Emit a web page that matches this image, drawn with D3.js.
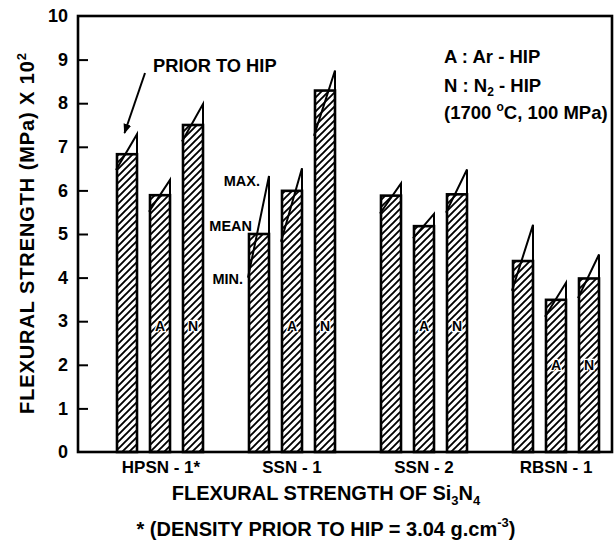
<!DOCTYPE html>
<html><head><meta charset="utf-8">
<script src="https://cdn.jsdelivr.net/npm/d3@7"></script>
<style>
html,body{margin:0;padding:0;background:#fff;}
text{font-family:"Liberation Sans",Arial,sans-serif;font-weight:bold;fill:#000;}
</style></head>
<body><svg id="c" width="616" height="542"></svg>
<script>
// ---- data ----
const categories = ["HPSN - 1*", "SSN - 1", "SSN - 2", "RBSN - 1"];
const series = ["prior", "A", "N"];
const seriesLetters = ["", "A", "N"];
const meanValues = [[6.83, 5.89, 7.50], [5.00, 5.99, 8.29], [5.88, 5.18, 5.91], [4.38, 3.49, 3.98]];
const maxValues  = [[7.29, 6.24, 7.98], [6.33, 6.51, 8.75], [6.16, 5.46, 6.48], [5.21, 3.88, 4.53]];
const minValues  = [[6.47, 5.51, 7.12], [4.00, 4.82, 7.25], [5.47, 4.90, 5.49], [3.70, 3.10, 3.53]];
const letterLevels = [2.9, 2.9, 2.9, 2.0];
const yTicks = [0, 1, 2, 3, 4, 5, 6, 7, 8, 9, 10];

// ---- layout ----
const svg = d3.select("#c");
const frame = {left: 78, right: 612, top: 16, bottom: 452};
const y = d3.scaleLinear().domain([0, 10]).range([frame.bottom, frame.top]);
const x0 = d3.scaleBand().domain(categories).range([94, 622]).padding(0);
const x1 = d3.scaleBand().domain(series)
  .range([x0.bandwidth() / 2 - 49.5, x0.bandwidth() / 2 + 49.5])
  .paddingInner(0.394).paddingOuter(0.197);

// hatch pattern
const defs = svg.append("defs");
const pat = defs.append("pattern").attr("id", "hatch").attr("patternUnits", "userSpaceOnUse")
  .attr("width", 7).attr("height", 7);
pat.append("rect").attr("width", 7).attr("height", 7).attr("fill", "#fff");
pat.append("path").attr("d", "M-1,1 l2,-2 M0,7 l7,-7 M6,8 l2,-2")
  .attr("stroke", "#000").attr("stroke-width", 1.9);

// bars
const rows = [];
categories.forEach((c, i) => series.forEach((s, j) => rows.push({
  cat: c, ser: s, letter: seriesLetters[j], mean: meanValues[i][j],
  max: maxValues[i][j], min: minValues[i][j], lvl: letterLevels[i]
})));

const g = svg.append("g");
const bw = x1.bandwidth();
const bx = d => x0(d.cat) + x1(d.ser);

g.selectAll("rect.bar").data(rows).join("rect").attr("class", "bar")
  .attr("x", bx).attr("width", bw)
  .attr("y", d => y(d.mean)).attr("height", d => y(0) - y(d.mean))
  .attr("fill", "url(#hatch)").attr("stroke", "#000").attr("stroke-width", 2.6);

// max/min indicators
g.selectAll("path.rng").data(rows).join("path").attr("class", "rng")
  .attr("d", d => `M${bx(d) + bw},${y(d.mean)} L${bx(d) + bw},${y(d.max)} L${bx(d) - 1},${y(d.min)}`)
  .attr("fill", "none").attr("stroke", "#000").attr("stroke-width", 2);

// letters in bars
g.selectAll("text.let").data(rows.filter(d => d.letter)).join("text").attr("class", "let")
  .attr("x", d => bx(d) + bw / 2).attr("y", d => y(d.lvl) + 5)
  .attr("text-anchor", "middle").attr("font-size", 14)
  .attr("stroke", "#fff").attr("stroke-width", 2.5).attr("paint-order", "stroke")
  .text(d => d.letter);

// frame
svg.append("rect").attr("x", frame.left).attr("y", frame.top)
  .attr("width", frame.right - frame.left).attr("height", frame.bottom - frame.top)
  .attr("fill", "none").attr("stroke", "#000").attr("stroke-width", 2.6);

// y axis
const ax = svg.append("g").attr("transform", `translate(${frame.left},0)`)
  .call(d3.axisLeft(y).tickValues(yTicks).tickSizeInner(-10).tickSizeOuter(0).tickPadding(10).tickFormat(d3.format("d")));
ax.select(".domain").remove();
ax.selectAll(".tick line").attr("stroke-width", 2).filter(d => d === 0 || d === 10).remove();
ax.selectAll(".tick text").attr("font-size", 18).style("font-family", "Liberation Sans, Arial, sans-serif").style("font-weight", "bold");

// x category labels
svg.selectAll("text.cat").data(categories).join("text").attr("class", "cat")
  .attr("x", d => x0(d) + x0.bandwidth() / 2 + (d === "HPSN - 1*" ? 1 : 0)).attr("y", 473)
  .attr("text-anchor", "middle").attr("font-size", 17).text(d => d);

// axis titles
const yt = svg.append("text").attr("transform", "translate(34,233) rotate(-90)")
  .attr("text-anchor", "middle").attr("font-size", 20).attr("letter-spacing", 0.9);
yt.append("tspan").text("FLEXURAL STRENGTH  (MPa) X 10");
yt.append("tspan").attr("dy", -8).attr("font-size", 13).text("2");

const xt = svg.append("text").attr("x", 326).attr("y", 500).attr("text-anchor", "middle").attr("font-size", 20);
xt.append("tspan").text("FLEXURAL STRENGTH OF Si");
xt.append("tspan").attr("dy", 5).attr("font-size", 13).text("3");
xt.append("tspan").attr("dy", -5).text("N");
xt.append("tspan").attr("dy", 5).attr("font-size", 13).text("4");

const ft = svg.append("text").attr("x", 326).attr("y", 536).attr("text-anchor", "middle").attr("font-size", 20);
ft.append("tspan").text("* (DENSITY PRIOR TO HIP = 3.04 g.cm");
ft.append("tspan").attr("dy", -9).attr("font-size", 13).text("-3");
ft.append("tspan").attr("dy", 9).text(")");

// legend
const lg = svg.append("g");
lg.append("text").attr("x", 444).attr("y", 63).attr("font-size", 18.5).text("A : Ar - HIP");
const l2 = lg.append("text").attr("x", 444).attr("y", 92).attr("font-size", 18.5);
l2.append("tspan").text("N : N");
l2.append("tspan").attr("dy", 4).attr("font-size", 12).text("2");
l2.append("tspan").attr("dy", -4).text(" - HIP");
const l3 = lg.append("text").attr("x", 444).attr("y", 119).attr("font-size", 18.5);
l3.append("tspan").text("(1700 ");
l3.append("tspan").attr("dy", -8).attr("font-size", 12).text("o");
l3.append("tspan").attr("dy", 8).text("C, 100 MPa)");

// annotations
svg.append("text").attr("x", 153).attr("y", 72).attr("font-size", 18.3).text("PRIOR TO HIP");
defs.append("marker").attr("id", "arr").attr("viewBox", "0 0 10 10").attr("refX", 9).attr("refY", 5)
  .attr("markerWidth", 5).attr("markerHeight", 5).attr("orient", "auto")
  .append("path").attr("d", "M0,1 L10,5 L0,9 z").attr("fill", "#000");
svg.append("line").attr("x1", 145).attr("y1", 73).attr("x2", 124.5).attr("y2", 133)
  .attr("stroke", "#000").attr("stroke-width", 2).attr("marker-end", "url(#arr)");

svg.append("text").attr("x", 260).attr("y", 186).attr("text-anchor", "end").attr("font-size", 14.5).text("MAX.");
svg.append("text").attr("x", 252).attr("y", 231).attr("text-anchor", "end").attr("font-size", 14.5).text("MEAN");
svg.append("text").attr("x", 243).attr("y", 284).attr("text-anchor", "end").attr("font-size", 14.5).text("MIN.");
</script></body></html>
